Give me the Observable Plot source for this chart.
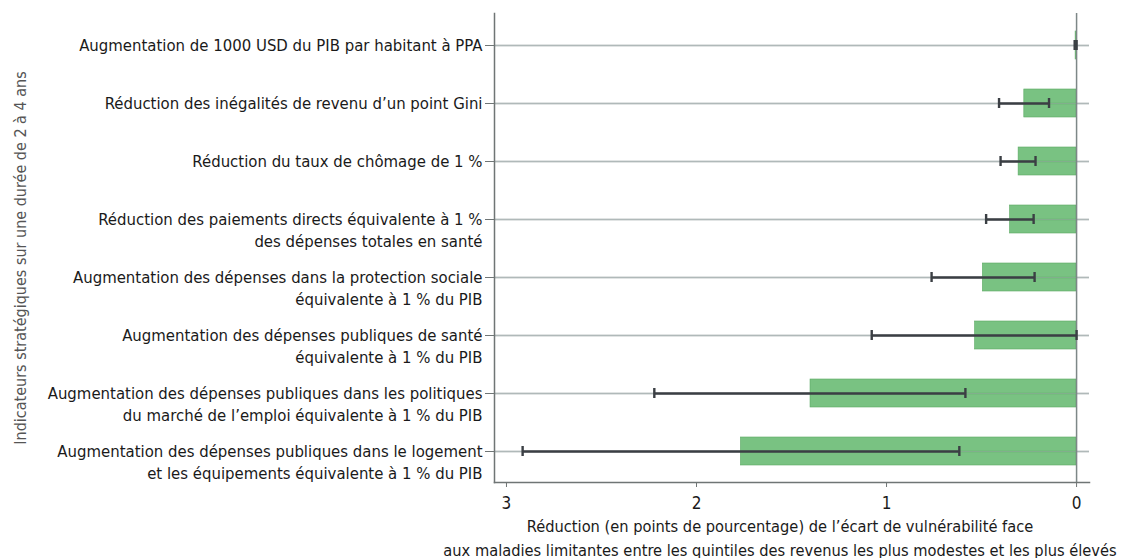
<!DOCTYPE html>
<html><head><meta charset="utf-8">
<script src="https://cdn.jsdelivr.net/npm/d3@7"></script>
<script src="https://cdn.jsdelivr.net/npm/@observablehq/plot@0.6"></script>
<style>
body{margin:0;background:#fff;}
#chart svg{display:block;}
</style>
</head><body><div id="chart"></div>
<script>
const categories = [
  "Augmentation de 1000 USD du PIB par habitant à PPA",
  "Réduction des inégalités de revenu d’un point Gini",
  "Réduction du taux de chômage de 1 %",
  "Réduction des paiements directs équivalente à 1 %\ndes dépenses totales en santé",
  "Augmentation des dépenses dans la protection sociale\néquivalente à 1 % du PIB",
  "Augmentation des dépenses publiques de santé\néquivalente à 1 % du PIB",
  "Augmentation des dépenses publiques dans les politiques\ndu marché de l’emploi équivalente à 1 % du PIB",
  "Augmentation des dépenses publiques dans le logement\net les équipements équivalente à 1 % du PIB"
];
const estimates = [0.005, 0.275, 0.305, 0.35, 0.493, 0.534, 1.40, 1.766];
const ciNear    = [0.0, 0.145, 0.216, 0.226, 0.221, 0.0, 0.585, 0.617];
const ciFar     = [0.01, 0.408, 0.40, 0.476, 0.763, 1.078, 2.222, 2.915];
const xTicks = [3, 2, 1, 0];
const xDomain = [3.063, -0.068];
const yTitle = "Indicateurs stratégiques sur une durée de 2 à 4 ans";
const xTitle = "Réduction (en points de pourcentage) de l’écart de vulnérabilité face\naux maladies limitantes entre les quintiles des revenus les plus modestes et les plus élevés";

const rows = categories.map((c, i) => ({
  cat: c,
  line1: c.split("\n")[0],
  line2: c.split("\n")[1] || "",
  est: estimates[i],
  lo: ciNear[i],
  hi: ciFar[i]
}));

const FONT = "'DejaVu Sans Condensed', 'Liberation Sans Narrow', 'Roboto', sans-serif";

const chart = Plot.plot({
  width: 1127,
  height: 558,
  marginLeft: 494,
  marginRight: 38,
  marginTop: 13,
  marginBottom: 76,
  style: {fontFamily: FONT, background: "#fff", overflow: "visible"},
  x: {domain: xDomain, ticks: xTicks, axis: null},
  y: {type: "band", domain: categories, padding: 0, axis: null},
  marks: [
    Plot.ruleY(rows, {y: "cat", stroke: "#c4caca", strokeWidth: 2}),
    Plot.barX(rows, {x1: 0, x2: "est", y: "cat", fill: "#5cb466", fillOpacity: 0.82, stroke: "#5aa862", strokeWidth: 0.6, insetTop: 15, insetBottom: 15}),
    Plot.ruleY(rows, {y: "cat", stroke: "#9aa4a4", strokeWidth: 1.2, strokeOpacity: 0.45}),
    Plot.ruleX([0], {stroke: "#7d8787", strokeWidth: 1.5}),
    Plot.ruleY(rows, {y: "cat", x1: "lo", x2: "hi", stroke: "#3b3f44", strokeWidth: 2.6}),
    Plot.tickX(rows, {x: "lo", y: "cat", stroke: "#3b3f44", strokeWidth: 2.4, insetTop: 24, insetBottom: 24}),
    Plot.tickX(rows, {x: "hi", y: "cat", stroke: "#3b3f44", strokeWidth: 2.4, insetTop: 24, insetBottom: 24}),
    Plot.frame({anchor: "left", stroke: "#6f7575", strokeWidth: 1.5}),
    Plot.frame({anchor: "bottom", stroke: "#6f7575", strokeWidth: 1.5}),
    Plot.axisY({anchor: "left", tickSize: 9, tickFormat: null, label: null, stroke: "#6f7575"}),
    Plot.axisX({ticks: xTicks, tickSize: 5, tickPadding: 9, tickFormat: d3.format("d"), fontSize: 17, fill: "#1a1a1a", stroke: "#6f7575", label: null}),
    Plot.text(rows, {y: "cat", text: "line1", frameAnchor: "left", textAnchor: "end", dx: -12, fontSize: 16.6, fill: "#1a1a1a"}),
    Plot.text(rows, {y: "cat", text: "line2", frameAnchor: "left", textAnchor: "end", dx: -12, dy: 22, fontSize: 16.6, fill: "#1a1a1a"}),
    Plot.text([yTitle], {frameAnchor: "left", textAnchor: "middle", rotate: -90, dx: -474, dy: 10, fontSize: 16, fill: "#555"}),
    Plot.text([xTitle], {frameAnchor: "bottom", textAnchor: "middle", lineAnchor: "top", dx: -12, dy: 33, fontSize: 16.3, lineHeight: 1.45, fill: "#1a1a1a"})
  ]
});
document.getElementById("chart").appendChild(chart);
</script>
</body></html>
